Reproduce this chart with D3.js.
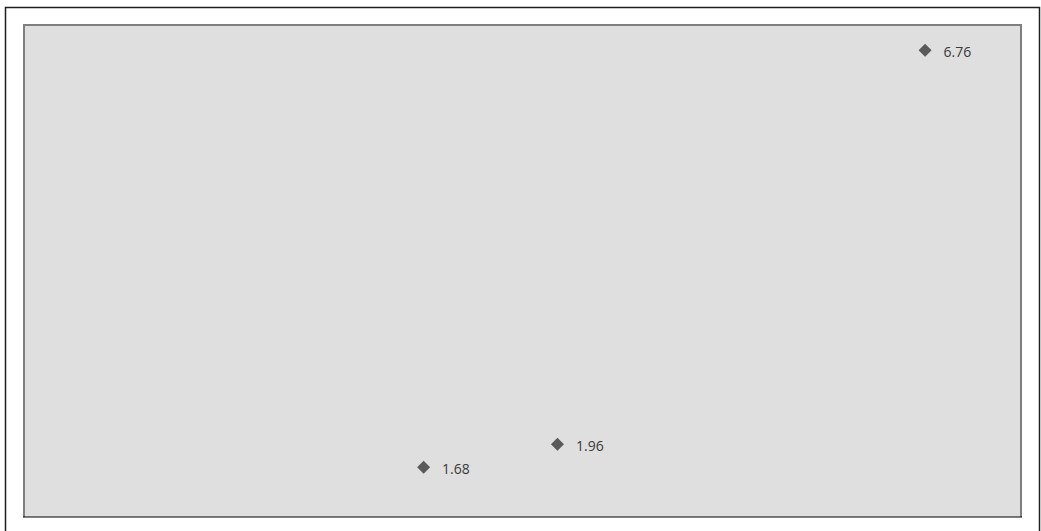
<!DOCTYPE html>
<html>
<head>
<meta charset="utf-8">
<script src="https://cdn.jsdelivr.net/npm/d3@7"></script>
<style>
  html, body { margin: 0; padding: 0; background: #ffffff; }
  svg { display: block; }
</style>
</head>
<body>
<svg id="chart" width="1041" height="531"></svg>
<script>
// Data
const xValues = [4.01, 5.35, 9.03];
const yValues = [1.68, 1.96, 6.76];
const labels = ["1.68", "1.96", "6.76"];

const W = 1041, H = 531;
const plot = { left: 23, top: 24, right: 1022, bottom: 517 };

const svg = d3.select("#chart");

// outer frame
svg.append("rect")
  .attr("x", 5.5).attr("y", 7.5)
  .attr("width", 1034).attr("height", 540)
  .attr("fill", "#ffffff")
  .attr("stroke", "#1e1e1e").attr("stroke-width", 1.5);

const x = d3.scaleLinear().domain([0, 10]).range([plot.left, plot.right]);
const y = d3.scaleLinear().domain([1.074, 7.08]).range([plot.bottom, plot.top]);

// plot area
svg.append("rect")
  .attr("x", plot.left).attr("y", plot.top)
  .attr("width", plot.right - plot.left).attr("height", plot.bottom - plot.top)
  .attr("fill", "#dfdfdf");

// borders
svg.append("line")
  .attr("x1", plot.left + 1).attr("x2", plot.left + 1)
  .attr("y1", plot.top).attr("y2", plot.bottom)
  .attr("stroke", "#7f7f7f").attr("stroke-width", 2);
svg.append("line")
  .attr("x1", plot.left).attr("x2", plot.right)
  .attr("y1", plot.top + 1).attr("y2", plot.top + 1)
  .attr("stroke", "#7f7f7f").attr("stroke-width", 2);
svg.append("line")
  .attr("x1", plot.right - 1).attr("x2", plot.right - 1)
  .attr("y1", plot.top).attr("y2", plot.bottom)
  .attr("stroke", "#7f7f7f").attr("stroke-width", 2);
svg.append("line")
  .attr("x1", plot.left).attr("x2", plot.right)
  .attr("y1", plot.bottom).attr("y2", plot.bottom)
  .attr("stroke", "#000000").attr("stroke-width", 1.2);

const pts = xValues.map((v, i) => ({ x: v, y: yValues[i], label: labels[i] }));

const diamond = d => {
  const cx = x(d.x), cy = y(d.y), hw = 6.5, hh = 6.5;
  return `M${cx},${cy - hh}L${cx + hw},${cy}L${cx},${cy + hh}L${cx - hw},${cy}Z`;
};

svg.append("g").selectAll("path")
  .data(pts).join("path")
  .attr("d", diamond)
  .attr("fill", "#5a5a5a");

svg.append("g").selectAll("text")
  .data(pts).join("text")
  .attr("x", d => x(d.x) + 18.5)
  .attr("y", d => y(d.y) + 6.5)
  .attr("font-family", "'Open Sans', sans-serif")
  .attr("font-size", 14)
  .attr("fill", "#3a3a3a")
  .text(d => d.label);
</script>
</body>
</html>
